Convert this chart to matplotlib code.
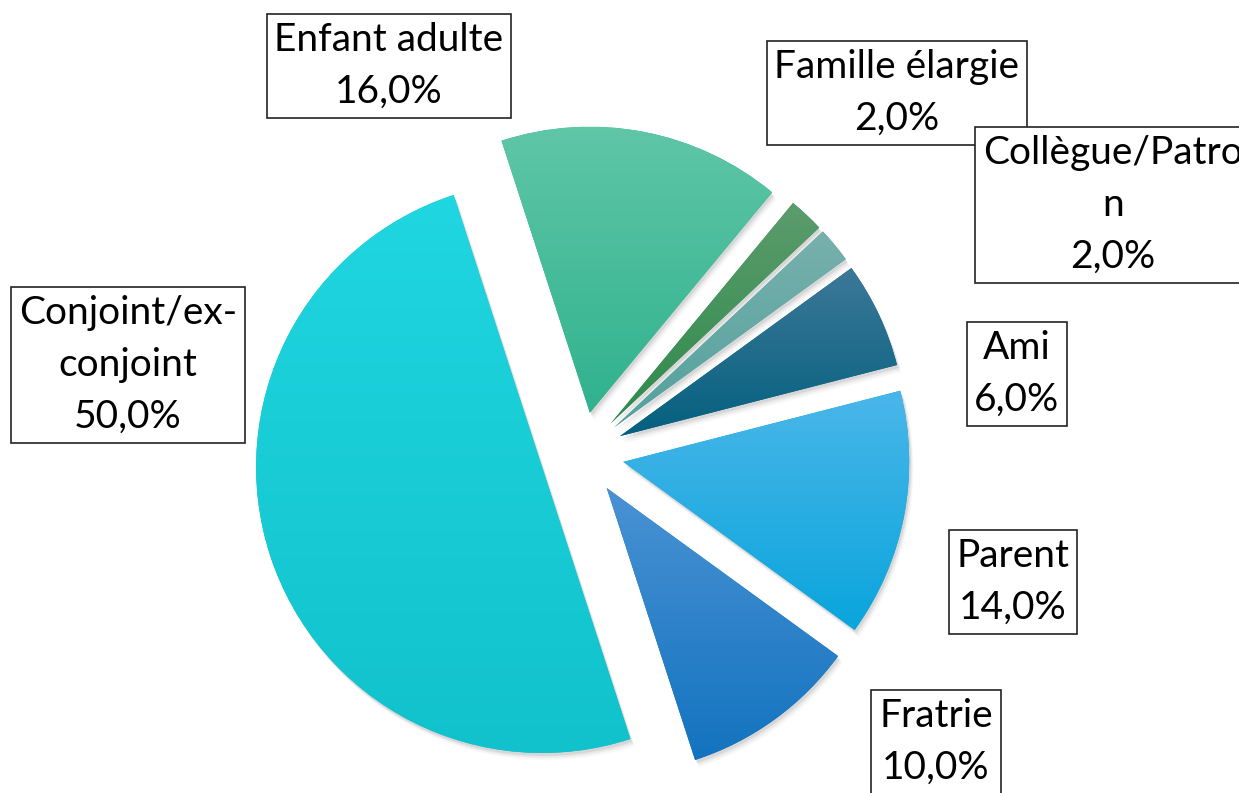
import numpy as np
import matplotlib
matplotlib.use("Agg")
import matplotlib.pyplot as plt
from matplotlib.patches import Wedge
from matplotlib.colors import to_rgb

# Data (clockwise from the top-left of the pie)
categories = ['Enfant adulte', 'Famille élargie', 'Collègue/Patron', 'Ami',
              'Parent', 'Fratrie', 'Conjoint/ex-conjoint']
shown_names = ['Enfant adulte', 'Famille élargie', 'Collègue/Patro\nn', 'Ami',
               'Parent', 'Fratrie', 'Conjoint/ex-\nconjoint']
values = [16.0, 2.0, 2.0, 6.0, 14.0, 10.0, 50.0]

# gradient colours (top, bottom) for each slice
top_colors = ['#5fc6a6', '#5c9c6c', '#78b0ac', '#3d7898', '#4ab6e9', '#4a92d4', '#20d6e0']
bottom_colors = ['#30b28e', '#2f8a4d', '#53a29e', '#04607f', '#09a5dc', '#1373bf', '#11c2cc']

# label box centres in pixels (x, y from top)
label_pos = [(389, 66), (897, 93), (1113, 205), (1017, 374),
             (1013, 582), (936, 742), (128, 365)]

W, H = 1239, 793
fig = plt.figure(figsize=(W / 100, H / 100), dpi=100)
ax = fig.add_axes([0, 0, 1, 1])

cx, cy, R = 582, H - 454, 286
wedges, _ = ax.pie(values, explode=[42] * len(values), startangle=108,
                   counterclock=False, center=(cx, cy), radius=R,
                   colors=bottom_colors, wedgeprops=dict(linewidth=0))

# soft shadow under each slice + vertical gradient fill
for w, c_top, c_bot in zip(wedges, top_colors, bottom_colors):
    w.set_zorder(3)
    x0, y0 = w.center
    for k, a in [(7, 0.03), (5, 0.05), (3, 0.08)]:
        sh = Wedge((x0 + k * 0.6, y0 - k), w.r, w.theta1, w.theta2,
                   facecolor='black', alpha=a, linewidth=0, zorder=1)
        ax.add_patch(sh)
    ext = w.get_path().get_extents()
    t = np.linspace(0, 1, 256)[:, None]
    grad = (1 - t) * np.array(to_rgb(c_top)) + t * np.array(to_rgb(c_bot))
    im = ax.imshow(grad[:, None, :], extent=(ext.x0, ext.x1, ext.y0, ext.y1),
                   origin='upper', aspect='auto', zorder=4, interpolation='bilinear')
    im.set_clip_path(w)

plt.rcParams['font.family'] = ['Lato', 'DejaVu Sans']
for name, v, (px, py) in zip(shown_names, values, label_pos):
    txt = name + '\n' + f"{v:.1f}%".replace('.', ',')
    ax.text(px, H - py, txt, ha='center', va='center', fontsize=28,
            linespacing=1.55, color='black', zorder=6,
            bbox=dict(boxstyle='square,pad=0.2', fc='white', ec='#222222', lw=1.2))

ax.set_xlim(0, W)
ax.set_ylim(0, H)
ax.set_aspect('equal')
ax.axis('off')

fig.savefig('out.png', dpi=100)
